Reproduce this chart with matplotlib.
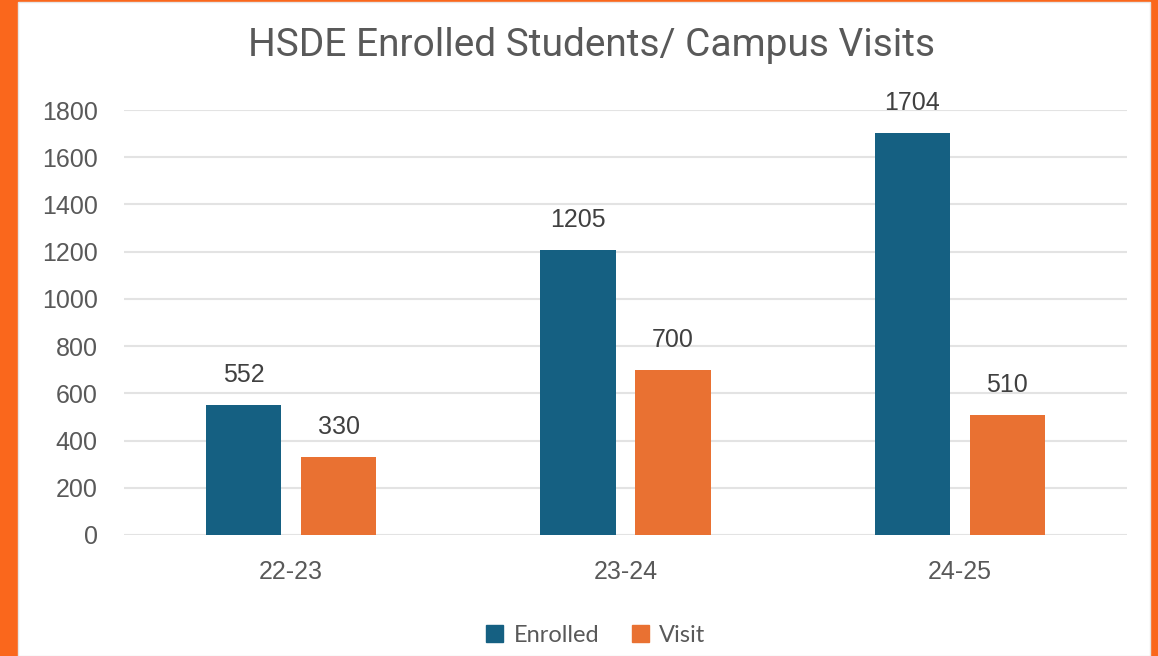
import matplotlib.pyplot as plt
import matplotlib.patches as mpatches
import numpy as np

# chart data
years = ['22-23', '23-24', '24-25']
enrolled = [552, 1205, 1704]
visits = [330, 700, 510]
yticks = [0, 200, 400, 600, 800, 1000, 1200, 1400, 1600, 1800]

blue = '#156082'
orange = '#E97132'
txt = '#595959'

fig = plt.figure(figsize=(11.58, 6.56), dpi=100)
fig.patch.set_facecolor('#FA671C')
# white chart panel inside the orange frame
fig.patches.append(mpatches.Rectangle((18/1158, 0), (1150-18)/1158, 1 - 2/656,
                                      transform=fig.transFigure, facecolor='white',
                                      edgecolor='#E6E6E6', lw=1, zorder=-10))

ax = fig.add_axes([124/1158, 1 - 535/656, (1127-124)/1158, (535-110)/656])
ax.set_facecolor('none')

x = np.arange(len(years))
w = 0.225
off = 0.142
b1 = ax.bar(x - off, enrolled, w, color=blue, label='Enrolled', zorder=3)
b2 = ax.bar(x + off, visits, w, color=orange, label='Visit', zorder=3)

for bars in (b1, b2):
    for r in bars:
        ax.annotate(str(int(r.get_height())), (r.get_x() + r.get_width()/2, r.get_height()),
                    xytext=(0, 13), textcoords='offset points', ha='center', va='bottom',
                    fontsize=18, color='#404040', family='Liberation Sans')

ax.set_xlim(-0.5, 2.5)
ax.set_ylim(0, 1800)
ax.set_yticks(yticks)
ax.set_xticks(x)
ax.set_xticklabels(years)
ax.grid(axis='y', color='#E3E3E3', lw=1.5, zorder=0)
for s in ax.spines.values():
    s.set_visible(False)
ax.tick_params(axis='both', length=0, labelsize=18, colors=txt)
ax.tick_params(axis='y', pad=19)
ax.tick_params(axis='x', pad=18)
for lab in ax.get_xticklabels() + ax.get_yticklabels():
    lab.set_family('Liberation Sans')

fig.text(591/1158, 1 - 46/656, 'HSDE Enrolled Students/ Campus Visits', ha='center', va='center',
         fontsize=28, color=txt, family='Roboto')

leg = fig.legend(handles=[mpatches.Patch(color=blue, label='Enrolled'),
                          mpatches.Patch(color=orange, label='Visit')],
                 loc='center', bbox_to_anchor=(596/1158, 1 - 635/656), ncol=2, frameon=False,
                 handlelength=0.7, handleheight=0.7, handletextpad=0.45, columnspacing=1.4,
                 prop={'family': 'Lato', 'size': 17})
for t in leg.get_texts():
    t.set_color(txt)

fig.savefig('out.png', dpi=100, facecolor=fig.get_facecolor())
